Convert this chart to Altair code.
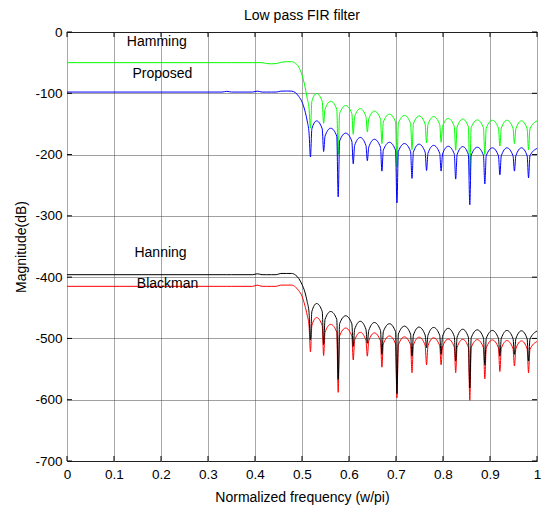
import altair as alt
import pandas as pd

# ---------------- data ----------------
freq = [
    0.0, 0.33, 0.34, 0.35, 0.395, 0.405, 0.415, 0.425, 0.435, 0.445, 0.455, 0.467,
    0.478, 0.486, 0.493, 0.500, 0.506, 0.511, 0.515,
    0.518, 0.521, 0.531, 0.543,
    0.546, 0.549, 0.561, 0.574,
    0.577, 0.580, 0.593, 0.606,
    0.609, 0.612, 0.624, 0.636,
    0.639, 0.642, 0.654, 0.667,
    0.670, 0.673, 0.686, 0.699,
    0.702, 0.705, 0.718, 0.731,
    0.734, 0.737, 0.749, 0.762,
    0.765, 0.768, 0.780, 0.793,
    0.796, 0.799, 0.811, 0.824,
    0.827, 0.830, 0.842, 0.854,
    0.857, 0.860, 0.873, 0.886,
    0.889, 0.892, 0.905, 0.918,
    0.921, 0.924, 0.936, 0.949,
    0.952, 0.955, 0.967, 0.979,
    0.982, 0.985, 1.0,
]

hamming = [
    -50, -50, -50, -50, -50, -50, -50, -51.5, -52, -51.5, -49.5, -48.5,
    -48.5, -51, -57, -70, -88, -108, -125,
    -157, -113, -100.5, -113,
    -149, -126, -113, -126,
    -200, -133, -120, -133,
    -167, -138, -125, -138,
    -163, -142, -129, -142,
    -182, -147, -134, -147,
    -220, -149, -136, -149,
    -192, -150, -137, -150,
    -181, -151, -138, -151,
    -180, -154, -141, -154,
    -193, -155, -142, -155,
    -236, -156, -143.5, -156,
    -200, -157, -144, -157,
    -186, -157, -144, -157,
    -182, -158, -145, -158,
    -192, -158, -145,
]

proposed = [
    -98, -98, -96.8, -98, -98, -96.5, -98, -98, -98, -98, -96.5, -96.3,
    -96.5, -99, -105, -114, -128, -145, -165,
    -204, -158, -145, -158,
    -195, -170, -157, -170,
    -269, -178, -165, -178,
    -215, -185, -172, -185,
    -210, -188, -175, -188,
    -227, -193, -180, -193,
    -279, -195, -182, -195,
    -239, -196, -183, -196,
    -226, -198, -185, -198,
    -227, -199, -186.5, -199,
    -240, -200, -187, -200,
    -282, -201, -188, -201,
    -248, -202, -189, -202,
    -233, -202, -189, -202,
    -227, -202, -189, -202,
    -238, -202, -190,
]

hanning = [
    -396, -396, -396, -396, -396, -394.5, -396, -396, -396, -396, -394, -394,
    -394, -396.5, -402, -412, -424, -440, -458,
    -502, -456, -443, -456,
    -510, -469, -456, -469,
    -567, -476, -463, -476,
    -513, -485, -472, -485,
    -508, -487, -474, -487,
    -526, -489, -476, -489,
    -590, -493, -480, -493,
    -529, -494.5, -481.5, -494.5,
    -515, -495, -482, -495,
    -526, -496.5, -483.5, -496.5,
    -537, -498, -485, -498,
    -581, -499, -486, -499,
    -543, -500, -487, -500,
    -529, -500, -487, -500,
    -526, -500.5, -487.5, -500.5,
    -537, -501, -488,
]

blackman = [
    -415, -415, -415, -415, -415, -413, -415, -415, -415, -415, -413, -413,
    -413, -416, -422, -431, -446, -462, -480,
    -522, -479, -466, -479,
    -528, -490, -477, -490,
    -588, -496, -483, -496,
    -535, -503, -490, -503,
    -529, -504, -491, -504,
    -547, -509, -496, -509,
    -597, -510.5, -497.5, -510.5,
    -556, -511, -498, -511,
    -543, -512, -499, -512,
    -543, -514, -501, -514,
    -556, -514.5, -501.5, -514.5,
    -601, -515, -502, -515,
    -566, -515.5, -502.5, -515.5,
    -554, -516.5, -503.5, -516.5,
    -545, -517, -504, -517,
    -556, -518, -505,
]

series_names = ["Hamming", "Proposed", "Blackman", "Hanning"]
series_values = [hamming, proposed, blackman, hanning]
series_colors = ["#00ff00", "#0000ff", "#ff0000", "#000000"]

x_ticks = [0, 0.1, 0.2, 0.3, 0.4, 0.5, 0.6, 0.7, 0.8, 0.9, 1]
y_ticks = [0, -100, -200, -300, -400, -500, -600, -700]

label_text = ["Hamming", "Proposed", "Hanning", "Blackman"]
label_x = [0.191, 0.203, 0.199, 0.214]
label_y = [-17, -68.5, -360.5, -411.5]

FONT = "Liberation Sans"
W, H = 470, 429

# ---------------- chart ----------------
x_enc = alt.X(
    "f:Q",
    scale=alt.Scale(domain=[0, 1], nice=False, zero=False),
    axis=alt.Axis(values=x_ticks, labelExpr="'' + datum.value", labelFlush=False,
                  titleX=W / 2, titleY=36, titleBaseline="middle"),
    title="Normalized frequency (w/pi)",
)
y_enc = alt.Y(
    "m:Q",
    scale=alt.Scale(domain=[-700, 0], nice=False, zero=False),
    axis=alt.Axis(values=y_ticks, labelExpr="'' + datum.value", labelFlush=False,
                  titleX=-46, titleY=H / 2, titleBaseline="middle"),
    title="Magnitude(dB)",
)

layers = []
for name, vals, col in zip(series_names, series_values, series_colors):
    df = pd.DataFrame({"f": freq, "m": vals})
    layers.append(
        alt.Chart(df).mark_line(color=col, strokeWidth=1, interpolate="monotone",
                                clip=True)
        .encode(x=x_enc, y=y_enc)
    )

tick_x_df = pd.DataFrame({"f": x_ticks})
tick_y_df = pd.DataFrame({"m": y_ticks})
tick_style = dict(color="black", strokeWidth=1)
layers.append(alt.Chart(tick_x_df).mark_rule(**tick_style).encode(
    x=x_enc, y=alt.value(0), y2=alt.value(5)))
layers.append(alt.Chart(tick_x_df).mark_rule(**tick_style).encode(
    x=x_enc, y=alt.value(H - 5), y2=alt.value(H)))
layers.append(alt.Chart(tick_y_df).mark_rule(**tick_style).encode(
    y=y_enc, x=alt.value(0), x2=alt.value(5)))
layers.append(alt.Chart(tick_y_df).mark_rule(**tick_style).encode(
    y=y_enc, x=alt.value(W - 5), x2=alt.value(W)))

label_df = pd.DataFrame({"f": label_x, "m": label_y, "t": label_text})
layers.append(
    alt.Chart(label_df).mark_text(font=FONT, fontSize=14, color="black",
                                  align="center", baseline="middle")
    .encode(x=x_enc, y=y_enc, text="t:N")
)

chart = (
    alt.layer(*layers)
    .properties(
        width=W, height=H,
        title=alt.TitleParams("Low pass FIR filter", font=FONT, fontSize=14,
                              fontWeight="normal", color="black", anchor="middle",
                              baseline="alphabetic", offset=10, dy=19),
        autosize=alt.AutoSizeParams(type="none"),
        padding={"left": 67, "top": 32, "right": 5, "bottom": 45},
        background="white",
    )
    .configure_view(stroke="black", strokeWidth=1)
    .configure_axis(
        labelFont=FONT, labelFontSize=13.5, labelColor="black",
        titleFont=FONT, titleFontSize=14, titleFontWeight="normal", titleColor="black",
        domain=False, ticks=False,
    )
    .configure_axisX(grid=True, gridColor="#a8a8a8", gridWidth=1, labelPadding=6)
    .configure_axisY(grid=True, gridColor="#404040", gridWidth=1, gridDash=[1, 1],
                     labelPadding=5)
)

chart.save("out.html", embed_options={"renderer": "svg", "actions": False})
